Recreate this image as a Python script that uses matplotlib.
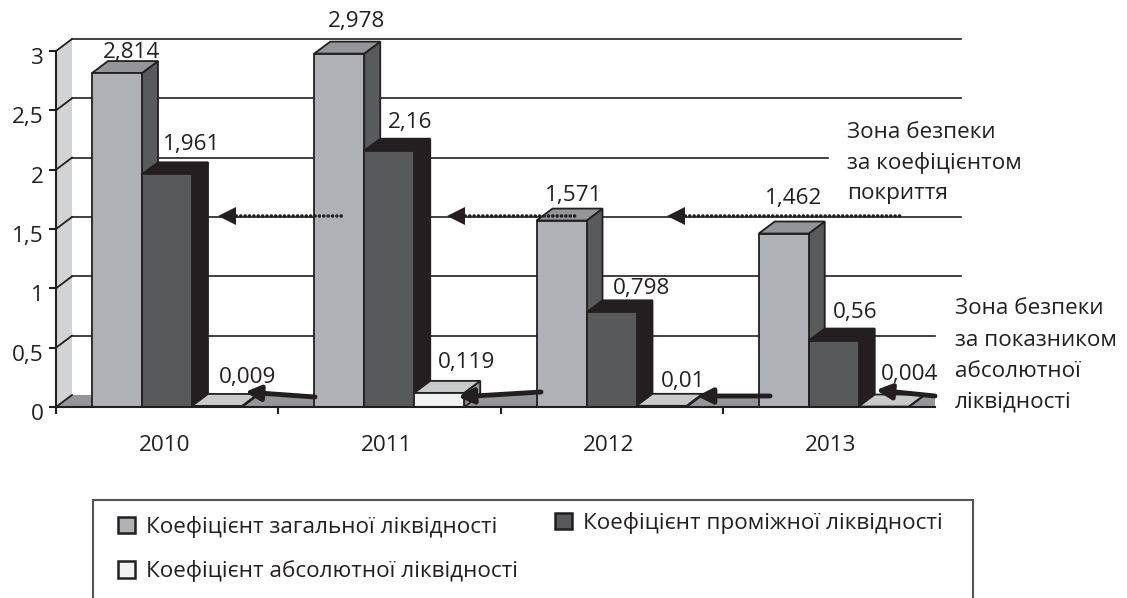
"""Liquidity ratios 2010-2013, drawn as a pseudo-3D grouped bar chart."""
import matplotlib
matplotlib.use('Agg')
import matplotlib.pyplot as plt
from matplotlib.patches import Patch, Polygon, Rectangle
from matplotlib.transforms import Affine2D

plt.rcParams['font.family'] = ['Open Sans', 'DejaVu Sans']

years = ['2010', '2011', '2012', '2013']
series_names = ['Коефіцієнт загальної ліквідності',
                'Коефіцієнт проміжної ліквідності',
                'Коефіцієнт абсолютної ліквідності']
total_ratio = [2.814, 2.978, 1.571, 1.462]
quick_ratio = [1.961, 2.16, 0.798, 0.56]
absolute_ratio = [0.009, 0.119, 0.01, 0.004]
value_labels = [['2,814', '2,978', '1,571', '1,462'],
                ['1,961', '2,16', '0,798', '0,56'],
                ['0,009', '0,119', '0,01', '0,004']]
y_ticks = [0, 0.5, 1, 1.5, 2, 2.5, 3]
y_tick_labels = ['0', '0,5', '1', '1,5', '2', '2,5', '3']
zone_cover = ['Зона безпеки', 'за коефіцієнтом', 'покриття']
zone_absolute = ['Зона безпеки', 'за показником', 'абсолютної', 'ліквідності']

W, H = 1127, 598
DARK = '#231f20'
FONT = 16.2
X0, X_END, Y0, Y3 = 56, 935, 407, 51
PX_X = 222.25
PX_Y = (Y0 - Y3) / 3
DX, DY = 16 / PX_X, 12 / PX_Y
BAR_W = 50 / PX_X
BAR_START = 36 / PX_X

# front, side, top colours for each series
bar_colors = [('#b0b1b4', '#595a5c', '#939598'),
              ('#58595b', DARK, DARK),
              ('#f1f2f2', '#939598', '#c9cacc')]
# label nudges in pixels (dx, dy), per series and year
label_offsets = [[(14, 3), (17, 15), (12, 8), (10, 18)],
                 [(25, 12), (21, 11), (30, 6), (21, 11)],
                 [(31, 11), (27, 13), (22, 7), (26, 15)]]
grid_ends = {0.5: 935, 1: 961, 1.5: 961, 2: 828, 2.5: 961, 3: 961}

fig = plt.figure(figsize=(W / 100, H / 100), dpi=100)
ax = fig.add_axes([X0 / W, 1 - Y0 / H, (X_END - X0) / W, (Y0 - Y3) / H])
ax.set_xlim(0, (X_END - X0) / PX_X)
ax.set_ylim(0, 3)
px = Affine2D().scale(1, -1).translate(0, H)


def add_poly(points, color, zorder, lw=1.3):
    ax.add_patch(Polygon(points, closed=True, facecolor=color, edgecolor=DARK,
                         linewidth=lw, joinstyle='miter', clip_on=False, zorder=zorder))


def draw_bar(x, value, colors, zorder):
    front, side, top = colors
    add_poly([(x + BAR_W, 0), (x + BAR_W + DX, DY), (x + BAR_W + DX, value + DY), (x + BAR_W, value)], side, zorder)
    add_poly([(x, value), (x + DX, value + DY), (x + BAR_W + DX, value + DY), (x + BAR_W, value)], top, zorder)
    add_poly([(x, 0), (x + BAR_W, 0), (x + BAR_W, value), (x, value)], front, zorder)


# wall and floor
x_right = ax.get_xlim()[1]
ax.add_patch(Polygon([(0, 0), (DX, DY), (DX, 3 + DY), (0, 3)], closed=True, facecolor='#d1d3d4',
                     edgecolor='none', clip_on=False, zorder=1))
ax.add_patch(Polygon([(0, 0), (DX, DY), (x_right, DY), (x_right, 0)], closed=True, facecolor='#939598',
                     edgecolor='none', clip_on=False, zorder=1))
for tick in y_ticks:
    ax.plot([0, DX], [tick, tick + DY], color=DARK, lw=1.3, clip_on=False, zorder=2)
    if tick in grid_ends:
        ax.plot([DX, (grid_ends[tick] - X0) / PX_X], [tick + DY, tick + DY], color=DARK, lw=1.2,
                clip_on=False, zorder=2)

series = [total_ratio, quick_ratio, absolute_ratio]
for i in range(len(years)):
    for s, values in enumerate(series):
        x = i + BAR_START + s * BAR_W
        draw_bar(x, values[i], bar_colors[s], 3 + i + s * 0.1)
        back = values[i] + DY
        off_x, off_y = label_offsets[s][i]
        ax.annotate(value_labels[s][i], (x + BAR_W / 2, back), xytext=(off_x, off_y), textcoords='offset pixels',
                    ha='center', va='baseline', fontsize=FONT, color=DARK, zorder=12, annotation_clip=False)

# safety zone arrows, in picture pixels
for tip, tail in [(218, 342), (447, 578), (667, 903)]:
    ax.plot([tip + 14, tail], [216, 216], transform=px, color=DARK, lw=2.6, clip_on=False, zorder=10,
            linestyle=(0, (0.01, 1.2)), dash_capstyle='round')
    ax.add_patch(Polygon([(tip, 216), (tip + 18, 207), (tip + 18, 225)], closed=True, facecolor=DARK,
                         edgecolor='none', transform=px, clip_on=False, zorder=10))
for tip, tail in [((245, 392), (315, 397)), ((458, 397), (541, 392)),
                  ((697, 396), (770, 396)), ((876, 390), (935, 396))]:
    ax.annotate('', xy=tip, xytext=tail, xycoords=px, textcoords=px, annotation_clip=False, zorder=11,
                arrowprops=dict(arrowstyle='-|>,head_length=0.9,head_width=0.45', color=DARK, lw=3.5,
                                shrinkA=0, shrinkB=0, capstyle='round'))

for line, base in zip(zone_cover, [138, 169, 199]):
    ax.text(847, base, line, transform=px, fontsize=FONT, color=DARK, va='baseline', ha='left')
for line, base in zip(zone_absolute, [314, 346, 377, 407]):
    ax.text(955, base, line, transform=px, fontsize=FONT, color=DARK, va='baseline', ha='left')

# axes
for name in ['top', 'right']:
    ax.spines[name].set_visible(False)
for name in ['left', 'bottom']:
    ax.spines[name].set_color(DARK)
    ax.spines[name].set_linewidth(1.5)
    ax.spines[name].set_zorder(9)
ax.patch.set_visible(False)
ax.set_yticks(y_ticks)
ax.set_yticklabels(y_tick_labels)
ax.set_xticks(range(len(years)))
ax.set_xticklabels([])
ax.set_xticks([i + 0.5 for i in range(len(years))], minor=True)
ax.set_xticklabels(years, minor=True)
ax.tick_params(axis='y', length=5, width=1.5, color=DARK, labelsize=FONT, labelcolor=DARK, pad=3.6)
ax.tick_params(axis='x', which='major', length=5, width=1.5, color=DARK)
ax.tick_params(axis='x', which='minor', length=0, labelsize=FONT, labelcolor=DARK, pad=20)
# y labels sit a little below their ticks, year labels a little left of centre
for lbl in ax.get_yticklabels():
    lbl.set_transform(lbl.get_transform() + Affine2D().translate(0, -5))
for lbl in ax.get_xticklabels(minor=True):
    lbl.set_transform(lbl.get_transform() + Affine2D().translate(-3, 0))

# legend box runs off the bottom of the picture
fig.add_artist(Rectangle((93 / W, -0.02), (973 - 93) / W, 1 - 500 / H + 0.02, transform=fig.transFigure,
                         facecolor='none', edgecolor='#555555', linewidth=1.5))
handles = [Patch(facecolor=bar_colors[k][0], edgecolor=DARK, linewidth=1.8) for k in range(3)]
legend_style = dict(frameon=False, loc='upper left', borderaxespad=0, borderpad=0, fontsize=FONT,
                    handlelength=0.76, handleheight=0.76, handletextpad=0.49, labelspacing=0.98, labelcolor=DARK)
fig.legend([handles[0], handles[2]], [series_names[0], series_names[2]],
           bbox_to_anchor=(118 / W, 1 - 516 / H), **legend_style)
fig.legend([handles[1]], [series_names[1]], bbox_to_anchor=(555 / W, 1 - 512 / H), **legend_style)

fig.savefig('out.png', dpi=100)
plt.close(fig)
